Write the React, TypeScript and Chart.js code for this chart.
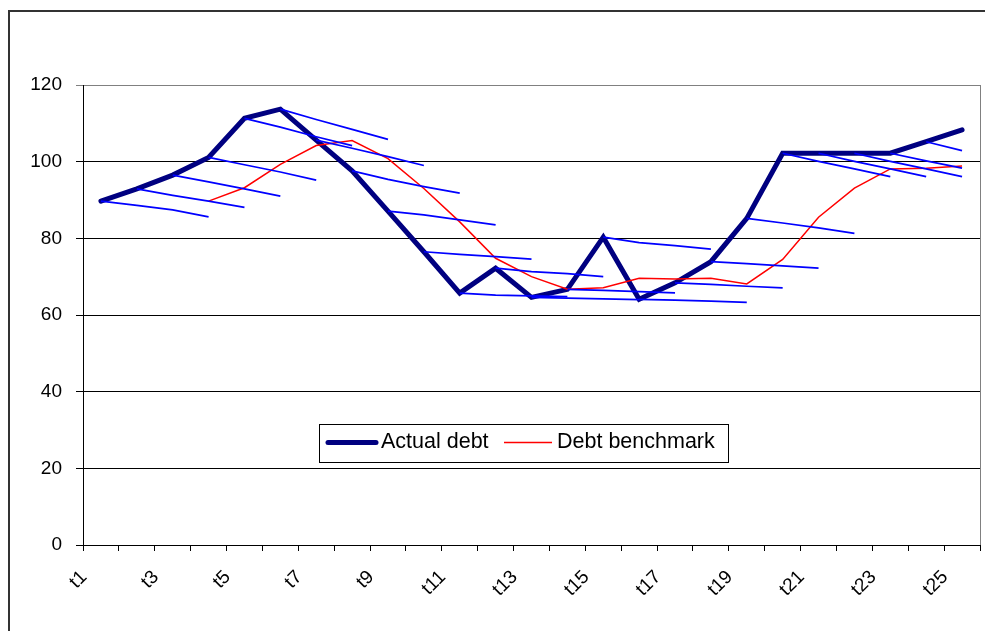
import React, { useEffect, useRef } from 'react';
import { Chart, registerables } from 'chart.js';

Chart.register(...registerables);

const categories = [
  't1', 't2', 't3', 't4', 't5', 't6', 't7', 't8', 't9', 't10', 't11', 't12', 't13',
  't14', 't15', 't16', 't17', 't18', 't19', 't20', 't21', 't22', 't23', 't24', 't25',
];

const actualDebt = [
  89.7, 92.9, 96.5, 101.1, 111.3, 113.7, 105.6, 97.6, 87.1, 76.5, 65.7, 72.2, 64.6,
  66.7, 80.3, 64.1, 68.4, 73.9, 85.2, 102.2, 102.2, 102.2, 102.2, 105.2, 108.3,
];

const debtBenchmark = [
  null, null, null, 89.7, 93.2, 99.3, 104.2, 105.5, 100.8, 93.0, 84.3, 74.8, 70.0,
  66.7, 67.1, 69.6, 69.4, 69.6, 68.1, 74.5, 85.5, 93.1, 98.1, 98.3, 98.9,
];

// Forward projections: the n-th path starts at category t(n+1)
const projectionPaths: number[][] = [
  [89.7, 88.6, 87.4, 85.6],
  [92.9, 91.2, 89.7, 88.1],
  [96.5, 94.7, 92.9, 91.0],
  [101.1, 99.2, 97.3, 95.2],
  [111.3, 109.0, 106.5, 104.2],
  [113.7, 111.0, 108.4, 105.8],
  [105.6, 103.5, 101.3, 99.0],
  [97.6, 95.4, 93.5, 91.8],
  [87.1, 86.1, 84.8, 83.5],
  [76.5, 75.8, 75.2, 74.6],
  [65.7, 65.2, 65.0, 64.8],
  [72.2, 71.3, 70.8, 70.0],
  [64.6, 64.4, 64.2, 64.0],
  [66.7, 66.4, 66.1, 65.8],
  [80.3, 78.9, 78.1, 77.2],
  [64.1, 63.9, 63.6, 63.3],
  [68.4, 68.0, 67.5, 67.1],
  [73.9, 73.4, 72.8, 72.2],
  [85.2, 84.0, 82.7, 81.3],
  [102.2, 100.1, 98.1, 96.1],
  [102.2, 100.1, 98.1, 96.1],
  [102.2, 100.1, 98.1, 96.1],
  [102.2, 100.2, 98.3],
  [105.2, 102.9],
];

const yTicks = [0, 20, 40, 60, 80, 100, 120];
const seriesNames = ['Actual debt', 'Debt benchmark'];

const FONT = '"Liberation Sans", Arial, Helvetica, sans-serif';
const NAVY = '#000080';
const RED = '#ff0000';
const BLUE = '#0000ff';

const framePlugin = {
  id: 'excelFrame',
  beforeDraw(chart: any) {
    const ctx = chart.ctx;
    ctx.save();
    ctx.fillStyle = '#ffffff';
    ctx.fillRect(0, 0, chart.width, chart.height);
    ctx.strokeStyle = '#333333';
    ctx.lineWidth = 2;
    ctx.beginPath();
    ctx.moveTo(9, chart.height + 2);
    ctx.lineTo(9, 11);
    ctx.lineTo(chart.width + 2, 11);
    ctx.stroke();
    ctx.restore();
  },
  afterDraw(chart: any) {
    const ctx = chart.ctx;
    const a = chart.chartArea;
    ctx.save();
    // plot area right border
    ctx.strokeStyle = '#808080';
    ctx.lineWidth = 1;
    ctx.beginPath();
    ctx.moveTo(Math.round(a.right) + 0.5, a.top);
    ctx.lineTo(Math.round(a.right) + 0.5, a.bottom);
    ctx.stroke();

    // legend
    const x0 = 319;
    const y0 = 424;
    const w = 409;
    const h = 38;
    ctx.fillStyle = '#ffffff';
    ctx.fillRect(x0, y0, w, h);
    ctx.strokeStyle = '#000000';
    ctx.lineWidth = 1;
    ctx.strokeRect(x0 + 0.5, y0 + 0.5, w, h);
    const ly = 442.5;
    ctx.lineCap = 'round';
    ctx.strokeStyle = NAVY;
    ctx.lineWidth = 5;
    ctx.beginPath();
    ctx.moveTo(328, ly);
    ctx.lineTo(376, ly);
    ctx.stroke();
    ctx.lineCap = 'butt';
    ctx.strokeStyle = RED;
    ctx.lineWidth = 1.5;
    ctx.beginPath();
    ctx.moveTo(504, ly);
    ctx.lineTo(552, ly);
    ctx.stroke();
    ctx.fillStyle = '#000000';
    ctx.font = `21.5px ${FONT}`;
    ctx.textBaseline = 'alphabetic';
    ctx.textAlign = 'left';
    ctx.fillText(seriesNames[0], 381, 448);
    ctx.fillText(seriesNames[1], 557, 448);
    ctx.restore();
  },
};

export default function App() {
  const canvasRef = useRef<HTMLCanvasElement | null>(null);

  useEffect(() => {
    const canvas = canvasRef.current;
    if (!canvas) return;

    const projectionDatasets = projectionPaths.map((path, start) => {
      const data: (number | null)[] = categories.map(() => null);
      path.forEach((v, k) => {
        data[start + k] = v;
      });
      return {
        label: `Projection ${categories[start]}`,
        data,
        borderColor: BLUE,
        backgroundColor: BLUE,
        borderWidth: 1.75,
        pointRadius: 0,
        tension: 0,
        spanGaps: false,
        order: 0,
      };
    });

    const chart = new Chart(canvas, {
      type: 'line',
      data: {
        labels: categories,
        datasets: [
          {
            label: seriesNames[0],
            data: actualDebt,
            borderColor: NAVY,
            backgroundColor: NAVY,
            borderWidth: 5,
            borderCapStyle: 'round',
            borderJoinStyle: 'miter',
            pointRadius: 0,
            tension: 0,
            order: 2,
          },
          {
            label: seriesNames[1],
            data: debtBenchmark,
            borderColor: RED,
            backgroundColor: RED,
            borderWidth: 1.5,
            pointRadius: 0,
            tension: 0,
            spanGaps: false,
            order: 1,
          },
          ...projectionDatasets,
        ] as any,
      },
      options: {
        responsive: false,
        animation: false,
        devicePixelRatio: 1,
        layout: { padding: { top: 85, right: 5, left: 0, bottom: 0 } },
        plugins: {
          legend: { display: false },
          tooltip: { enabled: false },
          title: { display: false },
        },
        scales: {
          x: {
            type: 'category',
            offset: true,
            afterFit: (scale: any) => {
              scale.height = 86;
              scale.paddingLeft = 0;
              scale.paddingRight = 0;
            },
            grid: {
              display: true,
              offset: true,
              drawOnChartArea: false,
              drawTicks: true,
              tickLength: 6,
              color: '#000000',
              lineWidth: 1,
            },
            border: { display: true, color: '#000000', width: 1 },
            ticks: {
              autoSkip: false,
              minRotation: 45,
              maxRotation: 45,
              padding: 15,
              labelOffset: -17,
              color: '#000000',
              font: { family: FONT, size: 19 },
              callback: (_v: any, i: number) => (i % 2 === 0 ? categories[i] : ''),
            },
          },
          y: {
            type: 'linear',
            min: yTicks[0],
            max: yTicks[yTicks.length - 1],
            afterFit: (scale: any) => {
              scale.width = 83;
              scale.paddingTop = 0;
              scale.paddingBottom = 0;
            },
            afterBuildTicks: (scale: any) => {
              scale.ticks = yTicks.map((v) => ({ value: v }));
            },
            grid: {
              color: (c: any) => (c.tick && c.tick.value === 120 ? '#808080' : '#000000'),
              lineWidth: 1,
              tickLength: 7,
              drawTicks: true,
            },
            border: { display: true, color: '#000000', width: 1 },
            ticks: {
              padding: 14,
              color: '#000000',
              font: { family: FONT, size: 19 },
            },
          },
        },
      },
      plugins: [framePlugin],
    });

    return () => {
      chart.destroy();
    };
  }, []);

  return (
    <div style={{ position: 'fixed', left: 0, top: 0, width: 985, height: 631 }}>
      <canvas
        ref={canvasRef}
        width={985}
        height={631}
        style={{ display: 'block', width: 985, height: 631 }}
      />
    </div>
  );
}
